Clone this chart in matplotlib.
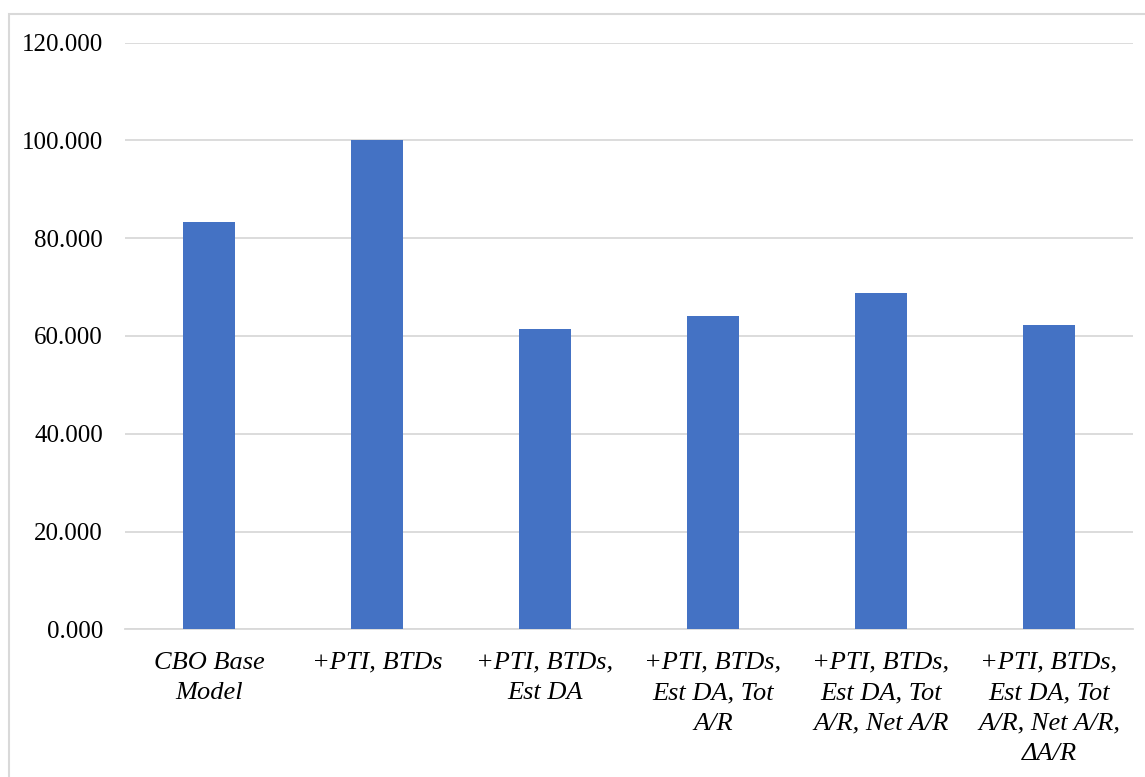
import matplotlib
matplotlib.use("Agg")
import matplotlib.pyplot as plt
from matplotlib.patches import Rectangle

categories = [
    "CBO Base\nModel",
    "+PTI, BTDs",
    "+PTI, BTDs,\nEst DA",
    "+PTI, BTDs,\nEst DA, Tot\nA/R",
    "+PTI, BTDs,\nEst DA, Tot\nA/R, Net A/R",
    "+PTI, BTDs,\nEst DA, Tot\nA/R, Net A/R,\nΔA/R",
]
values = [83.3, 100.0, 61.4, 64.1, 68.7, 62.3]
yticks = [0, 20, 40, 60, 80, 100, 120]

W, H = 1145, 777
fig = plt.figure(figsize=(W / 100, H / 100), dpi=100)
fig.patch.set_facecolor("white")

# outer chart frame
fig.patches.append(Rectangle((8.5 / W, -0.1), 1.2, (H - 13.5) / H + 0.1,
                             transform=fig.transFigure, fill=False,
                             edgecolor="#d9d9d9", linewidth=1.5, zorder=0))

ax = fig.add_axes([125 / W, (H - 629.3) / H, 1008 / W, 586.6 / H])
x = list(range(len(categories)))
ax.bar(x, values, width=0.315, color="#4472C4", zorder=3)

ax.set_xlim(-0.5, len(categories) - 0.5)
ax.set_ylim(0, 120)
ax.set_yticks(yticks)
ax.set_yticklabels([f"{v:.3f}" for v in yticks],
                   fontfamily="Liberation Serif", fontsize=18)
ax.set_xticks(x)
ax.set_xticklabels(categories, fontfamily="Liberation Serif",
                   fontstyle="italic", fontsize=19, linespacing=1.5)
ax.tick_params(axis="y", length=0, pad=16)
ax.tick_params(axis="x", length=0, pad=16)

ax.grid(axis="y", color="#d9d9d9", linewidth=1.3, zorder=0)
for side in ["top", "right", "left"]:
    ax.spines[side].set_visible(False)
ax.spines["bottom"].set_color("#d9d9d9")
ax.spines["bottom"].set_linewidth(1.3)

fig.savefig("out.png", dpi=100, facecolor="white")
